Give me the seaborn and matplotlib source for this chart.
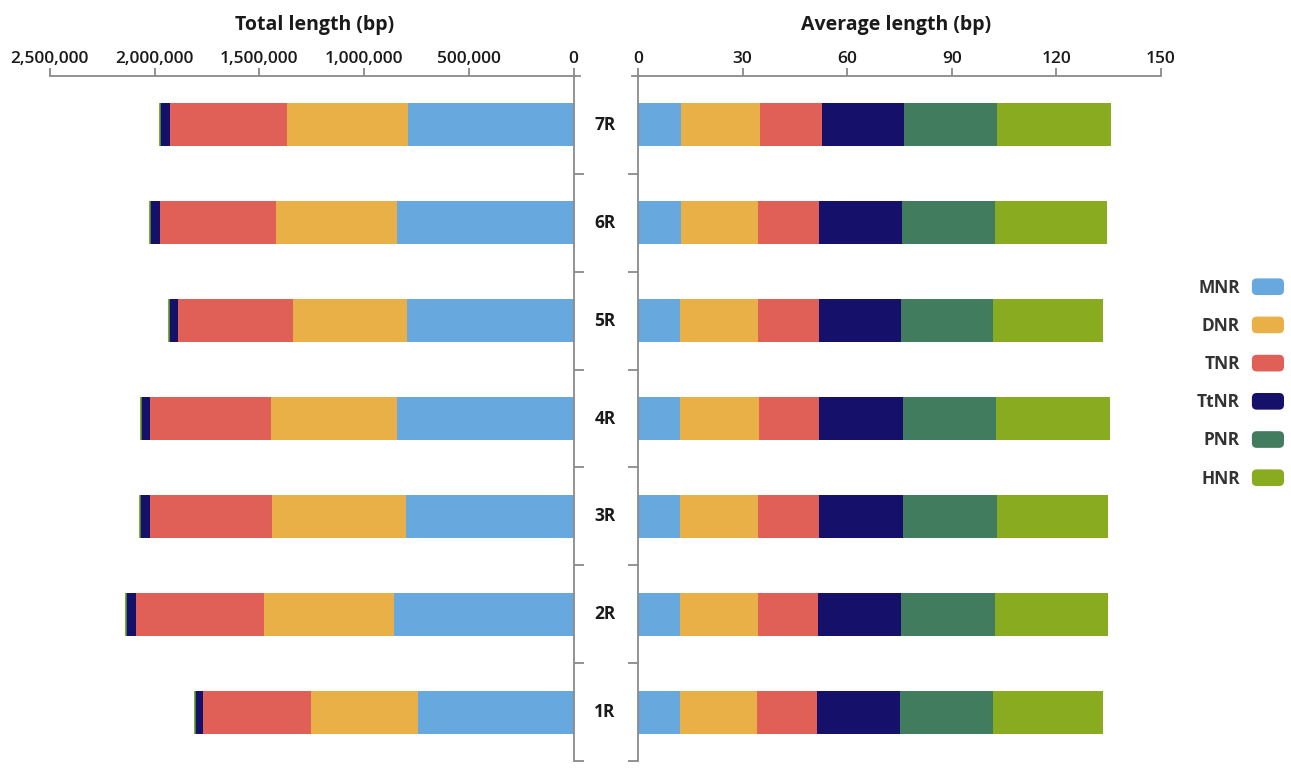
import matplotlib
matplotlib.use("Agg")
import matplotlib.pyplot as plt
import numpy as np
import pandas as pd
import seaborn as sns
from matplotlib.patches import FancyBboxPatch, Patch
from matplotlib.legend_handler import HandlerPatch
from matplotlib.ticker import FuncFormatter, FixedLocator

# ---------------- data ----------------
categories = ["7R", "6R", "5R", "4R", "3R", "2R", "1R"]
series = ["MNR", "DNR", "TNR", "TtNR", "PNR", "HNR"]
colors = ["#67A9DF", "#EAB048", "#E05F56", "#15106A", "#417C5E", "#89AB20"]

# total length (bp), order follows `categories`
total_MNR = [792100, 841200, 795000, 842600, 799700, 856900, 742500]
total_DNR = [573400, 576700, 543300, 603800, 637200, 619600, 508500]
total_TNR = [561000, 557600, 550000, 573300, 586200, 610000, 516100]
total_TtNR = [41000, 42900, 39600, 41500, 41500, 42900, 36700]
total_PNR = [6000, 5500, 5000, 5500, 4600, 6000, 5000]
total_HNR = [3500, 4000, 3100, 4000, 3000, 3500, 3100]

# average length (bp)
avg_MNR = [12.2, 12.2, 12.1, 12.1, 12.1, 12.1, 12.1]
avg_DNR = [22.7, 22.2, 22.3, 22.6, 22.4, 22.3, 21.9]
avg_TNR = [17.8, 17.4, 17.4, 17.3, 17.5, 17.3, 17.4]
avg_TtNR = [23.5, 23.8, 23.5, 24.0, 23.9, 23.6, 23.8]
avg_PNR = [26.9, 26.7, 26.5, 26.8, 27.0, 27.0, 26.6]
avg_HNR = [32.6, 32.2, 31.6, 32.6, 31.9, 32.6, 31.6]

total_ticks = [0, 500000, 1000000, 1500000, 2000000, 2500000]
avg_ticks = [0, 30, 60, 90, 120, 150]

# ---------------- style ----------------
sns.set_theme(style="white")
plt.rcParams["font.family"] = ["Open Sans", "DejaVu Sans"]
AX_COL = "#8a8a8a"
TXT_COL = "#1a1a1a"

W, H = 1291, 778
TOP, BOT = 76, 761
fig = plt.figure(figsize=(W / 100, H / 100), dpi=100)
ax_l = fig.add_axes([49.8 / W, 1 - BOT / H, (579.6 - 49.8) / W, (BOT - TOP) / H])
ax_r = fig.add_axes([632 / W, 1 - BOT / H, (1161 - 632) / W, (BOT - TOP) / H])

total_data = [total_MNR, total_DNR, total_TNR, total_TtNR, total_PNR, total_HNR]
avg_data = [avg_MNR, avg_DNR, avg_TNR, avg_TtNR, avg_PNR, avg_HNR]


def stacked(ax, data):
    cum = np.cumsum(np.array(data, dtype=float), axis=0)
    # draw largest cumulative first so each shorter one overlays it
    for i in range(len(series) - 1, -1, -1):
        df = pd.DataFrame({"cat": categories, "val": cum[i]})
        sns.barplot(data=df, x="val", y="cat", order=categories, orient="h",
                    color=colors[i], width=0.44, linewidth=0, saturation=1,
                    ax=ax, errorbar=None)


stacked(ax_l, total_data)
stacked(ax_r, avg_data)

for ax in (ax_l, ax_r):
    ax.set_ylim(6.5, -0.5)
    ax.set_xlabel("")
    ax.set_ylabel("")
    ax.xaxis.set_ticks_position("top")
    ax.xaxis.set_label_position("top")
    for s in ax.spines.values():
        s.set_color(AX_COL)
        s.set_linewidth(1.3)
    ax.spines["bottom"].set_visible(False)
    ax.set_yticks([])
    ax.yaxis.set_minor_locator(FixedLocator([0.5, 1.5, 2.5, 3.5, 4.5, 5.5, 6.5]))
    ax.tick_params(axis="y", which="minor", length=7, width=1.3, color=AX_COL,
                   left=(ax is ax_r), right=(ax is ax_l))
    ax.tick_params(axis="x", which="major", top=True, bottom=False, length=6,
                   width=1.3, color=AX_COL, pad=0.5, labelsize=12.5,
                   labelcolor=TXT_COL)

# left axes (reversed), spine at 0
ax_l.set_xlim(2500000, -29100)
ax_l.set_xticks(total_ticks)
ax_l.xaxis.set_major_formatter(FuncFormatter(lambda v, p: f"{int(v):,}"))
ax_l.spines["left"].set_visible(False)
ax_l.spines["right"].set_position(("data", 0))

# right axes, spine at 0
ax_r.set_xlim(-1.72, 150)
ax_r.set_xticks(avg_ticks)
ax_r.spines["right"].set_visible(False)
ax_r.spines["left"].set_position(("data", 0))

for ax in (ax_l, ax_r):
    for lab in ax.get_xticklabels():
        lab.set_fontweight("semibold")
        lab.set_fontsize(12.5)
        lab.set_color(TXT_COL)

ax_l.set_title("Total length (bp)", fontsize=14, fontweight="bold",
               color=TXT_COL, pad=33)
ax_r.set_title("Average length (bp)", fontsize=14, fontweight="bold",
               color=TXT_COL, pad=33)

# category labels in the middle gap
for i, c in enumerate(categories):
    ax_r.annotate(c, xy=(0, i), xycoords="data",
                  xytext=(-33, 0), textcoords="offset pixels",
                  ha="center", va="center", fontsize=12.5,
                  fontweight="bold", color=TXT_COL)


# legend with rounded swatches
class RoundHandler(HandlerPatch):
    def create_artists(self, legend, orig_handle, xdescent, ydescent,
                       width, height, fontsize, trans):
        p = FancyBboxPatch((-xdescent, -ydescent), width, height,
                           boxstyle="round,pad=0,rounding_size=3.5",
                           facecolor=orig_handle.get_facecolor(),
                           edgecolor="none", transform=trans)
        return [p]


handles = [Patch(facecolor=c, label=s) for s, c in zip(series, colors)]
leg = fig.legend(handles=handles, labels=series, loc="center right",
                 bbox_to_anchor=(1284 / W, 1 - 383 / H), frameon=False,
                 markerfirst=False, fontsize=12.5, handlelength=1.85,
                 handleheight=1.1, handletextpad=0.7, labelspacing=1.15,
                 borderpad=0, borderaxespad=0,
                 handler_map={Patch: RoundHandler()})
for t in leg.get_texts():
    t.set_fontweight("bold")
    t.set_color("#333333")

fig.savefig("out.png", dpi=100)
